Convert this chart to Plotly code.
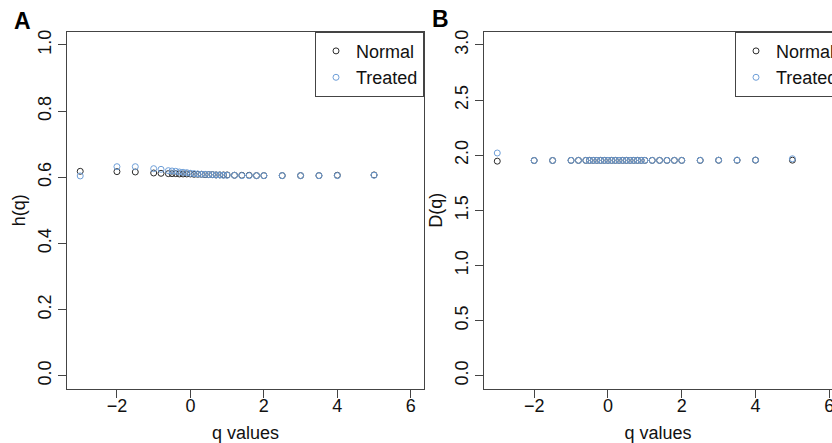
import plotly.graph_objects as go

# ---- data ----
q_values = [-3, -2, -1.5, -1, -0.8, -0.6, -0.5, -0.4, -0.3, -0.2, -0.1, 0, 0.1, 0.2, 0.3,
            0.4, 0.5, 0.6, 0.7, 0.8, 0.9, 1.0, 1.2, 1.4, 1.6, 1.8, 2.0, 2.5, 3.0, 3.5, 4.0, 5.0]

h_normal = [0.618, 0.617, 0.616, 0.613, 0.612, 0.611, 0.611, 0.611, 0.610, 0.610, 0.610,
            0.610, 0.609, 0.609, 0.609, 0.608, 0.608, 0.608, 0.607, 0.607, 0.607, 0.607,
            0.606, 0.606, 0.606, 0.605, 0.605, 0.605, 0.605, 0.605, 0.606, 0.607]
h_treated = [0.604, 0.632, 0.632, 0.626, 0.624, 0.620, 0.619, 0.618, 0.616, 0.615, 0.614,
             0.612, 0.611, 0.610, 0.609, 0.609, 0.608, 0.608, 0.607, 0.607, 0.606, 0.606,
             0.606, 0.605, 0.605, 0.605, 0.605, 0.605, 0.605, 0.605, 0.605, 0.606]

D_normal = [1.946, 1.952, 1.952, 1.953, 1.953, 1.953, 1.953, 1.953, 1.953, 1.953, 1.953,
            1.953, 1.953, 1.953, 1.953, 1.953, 1.953, 1.953, 1.953, 1.953, 1.953, 1.953,
            1.953, 1.953, 1.953, 1.953, 1.953, 1.953, 1.954, 1.954, 1.955, 1.955]
D_treated = [2.020, 1.952, 1.952, 1.953, 1.953, 1.953, 1.953, 1.953, 1.953, 1.953, 1.953,
             1.953, 1.953, 1.953, 1.953, 1.953, 1.953, 1.953, 1.953, 1.953, 1.953, 1.953,
             1.953, 1.953, 1.953, 1.953, 1.953, 1.954, 1.955, 1.956, 1.957, 1.968]

series_names = ["Normal", "Treated"]
h_ticks = [0.0, 0.2, 0.4, 0.6, 0.8, 1.0]
D_ticks = [0.0, 0.5, 1.0, 1.5, 2.0, 2.5, 3.0]
q_ticks = [-2, 0, 2, 4, 6]
q_tick_labels = ["\u22122", "0", "2", "4", "6"]

# ---- style ----
W, H = 832, 443
FONT = "Liberation Sans, Arial, Helvetica, sans-serif"
C_NORMAL = "#2b2b2b"
C_TREATED = "#6f9fd8"
AX = "#444444"


def px_x(v):
    return v / W


def px_y(v):
    return 1 - v / H


fig = go.Figure()

for xs, ys, name, col, xa, ya, lg in [
    (q_values, h_normal, series_names[0], C_NORMAL, "x", "y", "legend"),
    (q_values, h_treated, series_names[1], C_TREATED, "x", "y", "legend"),
    (q_values, D_normal, series_names[0], C_NORMAL, "x2", "y2", "legend2"),
    (q_values, D_treated, series_names[1], C_TREATED, "x2", "y2", "legend2"),
]:
    fig.add_trace(go.Scatter(
        x=xs, y=ys, mode="markers", name=name, xaxis=xa, yaxis=ya, legend=lg,
        marker=dict(symbol="circle-open", size=6, color=col, line=dict(width=1, color=col)),
    ))

common_axis = dict(
    showgrid=False, zeroline=False, showline=True, linecolor=AX, linewidth=1,
    ticks="outside", ticklen=8, tickcolor=AX, tickwidth=1,
    tickfont=dict(family=FONT, size=18, color="#111"),
)

xa_dom = [px_x(67), px_x(424)]
ya_dom = [px_y(389), px_y(31.7)]
xb_dom = [px_x(484), 1.0]

xtitle = dict(text="q values", font=dict(size=18, family=FONT, color="#111"), standoff=11)

fig.update_layout(
    width=W, height=H,
    margin=dict(l=0, r=0, t=0, b=0, autoexpand=False),
    paper_bgcolor="white", plot_bgcolor="white",
    font=dict(family=FONT, color="#111"),
    xaxis=dict(domain=xa_dom, range=[-3.36, 6.36], tickvals=q_ticks, ticktext=q_tick_labels,
               mirror=True, ticklabelstandoff=-8, title=xtitle, anchor="y", **common_axis),
    yaxis=dict(domain=ya_dom, range=[-0.04, 1.04], tickvals=h_ticks, tickformat=".1f",
               tickangle=-90, mirror=True,
               title=dict(text="h(q)", font=dict(size=18, family=FONT, color="#111"), standoff=4),
               anchor="x", **common_axis),
    xaxis2=dict(domain=xb_dom, range=[-3.36, 6.073], tickvals=q_ticks, ticktext=q_tick_labels,
                mirror=True, ticklabelstandoff=-8, ticklabeloverflow="allow",
                title=xtitle, anchor="y2", **common_axis),
    yaxis2=dict(domain=ya_dom, range=[-0.12, 3.12], tickvals=D_ticks, tickformat=".1f",
                tickangle=-90, mirror=False,
                title=dict(text="D(q)", font=dict(size=18, family=FONT, color="#111"), standoff=4),
                anchor="x2", **common_axis),
    legend=dict(x=px_x(424), xanchor="right", y=px_y(31.7), yanchor="top",
                bordercolor=AX, borderwidth=1, bgcolor="white",
                font=dict(family=FONT, size=18, color="#111"),
                tracegroupgap=0, itemwidth=30),
    legend2=dict(x=px_x(735), xanchor="left", y=px_y(31.7), yanchor="top",
                 bordercolor=AX, borderwidth=1, bgcolor="white",
                 font=dict(family=FONT, size=18, color="#111"),
                 tracegroupgap=0, itemwidth=30),
    annotations=[
        dict(text="<b>A</b>", x=px_x(22.5), y=px_y(21), xref="paper", yref="paper",
             xanchor="center", yanchor="middle",
             showarrow=False, font=dict(family=FONT, size=23, color="black")),
        dict(text="<b>B</b>", x=px_x(441), y=px_y(19), xref="paper", yref="paper",
             xanchor="center", yanchor="middle",
             showarrow=False, font=dict(family=FONT, size=23, color="black")),
    ],
)

fig.write_html("out.html")
